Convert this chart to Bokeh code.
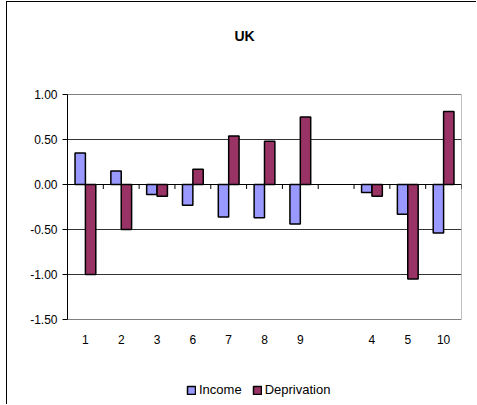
from bokeh.plotting import figure
from bokeh.models import (ColumnDataSource, FactorRange, Range1d, FixedTicker,
                          NumeralTickFormatter, Span, Legend, LegendItem, Label, LabelSet)
from bokeh.core.properties import value
from bokeh.transform import dodge
from bokeh.embed import file_html
from bokeh.resources import INLINE

# ---- data ----
axis_factors = ["1", "2", "3", "6", "7", "8", "9", " ", "4", "5", "10"]
categories = ["1", "2", "3", "6", "7", "8", "9", "4", "5", "10"]
income = [0.35, 0.15, -0.11, -0.23, -0.36, -0.37, -0.44, -0.09, -0.33, -0.54]
deprivation = [-1.00, -0.50, -0.13, 0.17, 0.54, 0.48, 0.75, -0.13, -1.05, 0.81]
y_ticks = [-1.5, -1.0, -0.5, 0.0, 0.5, 1.0]
y_min, y_max = -1.5, 1.0

FONT = "Liberation Sans"

# ---- layout (pixels) ----
W, H = 470, 403
BORDER_L, BORDER_R, BORDER_T, BORDER_B = 60, 16, 3, 3
PX_PER_UNIT = 90.0
AREA_TOP = 92          # top of plot area, canvas px
frame_h = H - BORDER_T - BORDER_B
y_end = y_max + (AREA_TOP - BORDER_T) / PX_PER_UNIT
y_start = y_end - frame_h / PX_PER_UNIT

src = ColumnDataSource(dict(cats=categories, income=income, deprivation=deprivation))
tick_src = ColumnDataSource(dict(cats=axis_factors, y0=[0.0] * len(axis_factors),
                                 y1=[-0.05] * len(axis_factors)))
lab_src = ColumnDataSource(dict(cats=axis_factors, y=[y_min] * len(axis_factors)))
area_src = ColumnDataSource(dict(l=[axis_factors[0]], r=[axis_factors[-1]],
                                 b=[y_min], t=[y_max]))

p = figure(width=W, height=H, x_range=FactorRange(*axis_factors),
           y_range=Range1d(y_start, y_end), output_backend="svg",
           toolbar_location=None, min_border_left=BORDER_L, min_border_right=BORDER_R,
           min_border_top=BORDER_T, min_border_bottom=BORDER_B)
p.margin = (1, 0, 0, 6)
p.styles = {"border-left": "1px solid black", "border-top": "1px solid black"}
p.outline_line_color = None

# plot-area border (grey)
p.quad(left=dodge("l", -0.5, range=p.x_range), right=dodge("r", 0.5, range=p.x_range),
       bottom="b", top="t", source=area_src, fill_color=None, line_color="#808080",
       line_width=1)

p.xgrid.visible = False
p.ygrid.ticker = FixedTicker(ticks=[-1.0, -0.5, 0.0, 0.5])
p.ygrid.grid_line_color = "#333333"
p.ygrid.grid_line_width = 1

p.yaxis.ticker = FixedTicker(ticks=y_ticks)
p.yaxis.bounds = (y_min, y_max)
p.yaxis.formatter = NumeralTickFormatter(format="0.00")
p.yaxis.axis_line_color = "black"
p.yaxis.major_tick_line_color = "black"
p.yaxis.major_tick_out = 5
p.yaxis.major_tick_in = 0
p.yaxis.minor_tick_line_color = None
p.yaxis.major_label_standoff = 5
p.yaxis.major_label_text_font = FONT
p.yaxis.major_label_text_font_size = "12px"
p.yaxis.major_label_text_color = "black"

p.xaxis.visible = False

p.add_layout(Span(location=0, dimension="width", line_color="black", line_width=1))

# tick marks between categories on the zero line
p.segment(x0=dodge("cats", 0.5, range=p.x_range), x1=dodge("cats", 0.5, range=p.x_range),
          y0="y0", y1="y1", source=tick_src, line_color="black", line_width=1)

bw = 0.29
r1 = p.vbar(x=dodge("cats", -bw / 2, range=p.x_range), top="income", bottom=0, width=bw,
            source=src, fill_color="#9999FF", line_color="black", line_width=1.5)
r2 = p.vbar(x=dodge("cats", bw / 2, range=p.x_range), top="deprivation", bottom=0, width=bw,
            source=src, fill_color="#993366", line_color="black", line_width=1.5)

# category labels below the plot area
p.add_layout(LabelSet(x="cats", y="y", text="cats", source=lab_src, y_offset=-20,
                      text_align="center", text_baseline="middle",
                      text_font=value(FONT), text_font_size=value("12px"),
                      text_color="black"))

# title
p.add_layout(Label(x=177, y=y_max + 59 / PX_PER_UNIT, x_units="screen", text="UK",
                   text_align="center", text_baseline="middle", text_font=FONT,
                   text_font_size="14px", text_font_style="bold", text_color="black"))

legend = Legend(items=[LegendItem(label="Income", renderers=[r1]),
                       LegendItem(label="Deprivation", renderers=[r2])],
                location=(119, 5), orientation="horizontal")
legend.border_line_color = None
legend.background_fill_alpha = 0
legend.padding = 0
legend.margin = 0
legend.spacing = 10
legend.glyph_width = 10
legend.glyph_height = 10
legend.label_height = 10
legend.label_standoff = 3
legend.label_text_font = FONT
legend.label_text_font_size = "13px"
legend.label_text_color = "black"
p.add_layout(legend, "center")

open("out.html", "w").write(file_html(p, INLINE))
